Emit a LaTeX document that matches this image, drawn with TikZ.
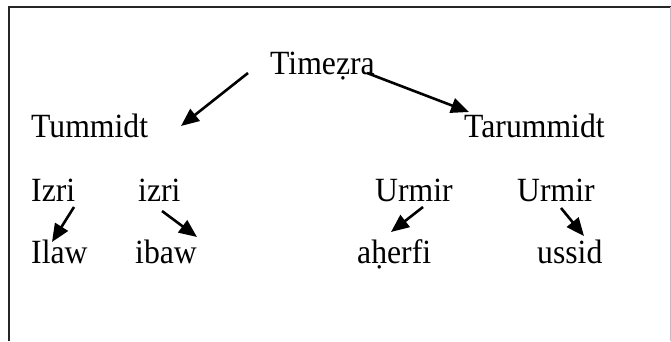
\documentclass[tikz,border=0pt]{standalone}
\usepackage{fontspec}
\setmainfont{Liberation Serif}
\usetikzlibrary{arrows.meta}
\newcommand{\tallword}[1]{\scalebox{1}[1.07]{#1}}
\begin{document}
\begin{tikzpicture}[x=1pt,y=-1pt,
  word/.style={anchor=base west,inner sep=0pt,font=\fontsize{31.7}{38}\selectfont},
  arr/.style={line width=2.6pt,-{Triangle[length=18pt,width=15pt]}},
  frame/.style={line width=2pt,draw=black!85}]
\useasboundingbox (0,0) rectangle (671,341);
\draw[frame] (9,341) -- (9,7) -- (671,7);
\draw[line width=0.6pt,draw=black!25] (670.5,7) -- (670.5,341);
% words
\node[word] (timezra) at (270,74) {\tallword{Timeẓra}};
\node[word] (tummidt) at (31,137) {\tallword{Tummidt}};
\node[word] (tarummidt) at (464,137) {\tallword{Tarummidt}};
\node[word] (izriA) at (31,201) {\tallword{Izri}};
\node[word] (izriB) at (138,201) {\tallword{izri}};
\node[word] (urmirA) at (375,201) {\tallword{Urmir}};
\node[word] (urmirB) at (517,201) {\tallword{Urmir}};
\node[word] (ilaw) at (31,263) {\tallword{Ilaw}};
\node[word] (ibaw) at (135,263) {\tallword{ibaw}};
\node[word] (aherfi) at (357,263) {\tallword{aḥerfi}};
\node[word] (ussid) at (537,263) {\tallword{ussid}};
% arrow end points
\coordinate (s1) at (248,73);  \coordinate (e1) at (181,126);
\coordinate (s2) at (367,73);  \coordinate (e2) at (469,112);
\coordinate (s3) at (74,207);  \coordinate (e3) at (52,242);
\coordinate (s4) at (162,211); \coordinate (e4) at (197,237);
\coordinate (s5) at (423,207); \coordinate (e5) at (391,232);
\coordinate (s6) at (561,208); \coordinate (e6) at (584,236);
\draw[arr] (s1) -- (e1);
\draw[arr] (s2) -- (e2);
\draw[arr] (s3) -- (e3);
\draw[arr] (s4) -- (e4);
\draw[arr] (s5) -- (e5);
\draw[arr] (s6) -- (e6);
\end{tikzpicture}
\end{document}
